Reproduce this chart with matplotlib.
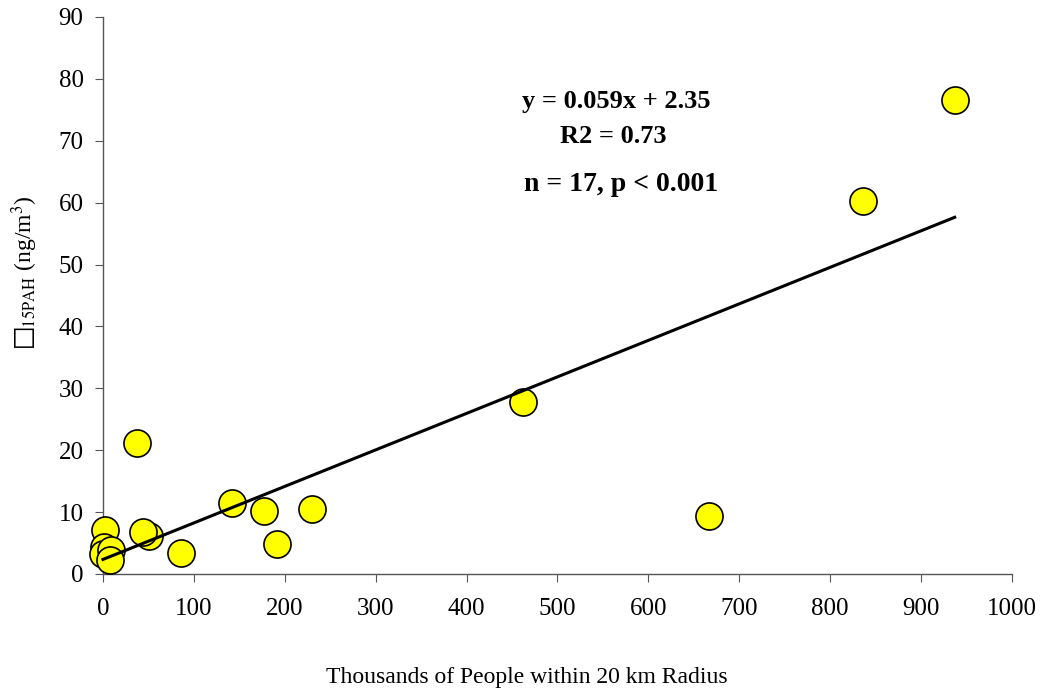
import matplotlib
matplotlib.use("Agg")
import matplotlib.pyplot as plt
import numpy as np

plt.rcParams['font.family'] = ['Liberation Serif', 'DejaVu Serif']
plt.rcParams['mathtext.fontset'] = 'stix'

people = [937, 836, 462, 667, 37, 142, 177, 230, 191, 86, 51, 44, 2, 1, 0, 9, 8]
pah = [76.6, 60.3, 27.8, 9.4, 21.2, 11.5, 10.2, 10.5, 4.8, 3.4, 6.1, 6.8, 7.1, 4.4, 3.3, 3.9, 2.3]
slope = 0.059
intercept = 2.35
eq_lines = ["y = 0.059x + 2.35", "R2 = 0.73", "n = 17, p < 0.001"]
xticks = list(range(0, 1001, 100))
yticks = list(range(0, 91, 10))

fig = plt.figure(figsize=(10.42, 6.96), dpi=100)
ax = fig.add_axes([0.0988, 0.1753, 0.8724, 0.8003])

ax.scatter(people, pah, s=380, facecolor='#FFFF00', edgecolor='black', linewidth=1.2,
           zorder=3, clip_on=False)
xf = np.array([min(people), max(people)])
ax.plot(xf, slope * xf + intercept, color='black', linewidth=2.2, zorder=4, clip_on=False)

ax.set_xlim(0, 1000)
ax.set_ylim(0, 90)
ax.set_xticks(xticks)
ax.set_yticks(yticks)
for s in ['top', 'right']:
    ax.spines[s].set_visible(False)
for s in ['left', 'bottom']:
    ax.spines[s].set_color('#555555')
    ax.spines[s].set_linewidth(1.0)
ax.tick_params(axis='both', direction='out', length=6, color='#555555', labelsize=18)
ax.tick_params(axis='x', pad=11)
ax.tick_params(axis='y', pad=8)

fig.text(527 / 1042, 1 - 678 / 696, "Thousands of People within 20 km Radius",
         fontsize=17, ha='center', va='center')
fig.text(25 / 1042, 1 - 272 / 696, "$\u25a1_{\\mathrm{15PAH}}$ (ng/m$^{3}$)",
         fontsize=17, rotation=90, ha='center', va='center')

ax.text(565, 76.4, eq_lines[0], ha='center', va='center', fontsize=19, fontweight='bold')
ax.text(561, 70.7, eq_lines[1], ha='center', va='center', fontsize=19, fontweight='bold')
ax.text(570, 63.0, eq_lines[2], ha='center', va='center', fontsize=20, fontweight='bold')

fig.savefig("out.png", dpi=100)
